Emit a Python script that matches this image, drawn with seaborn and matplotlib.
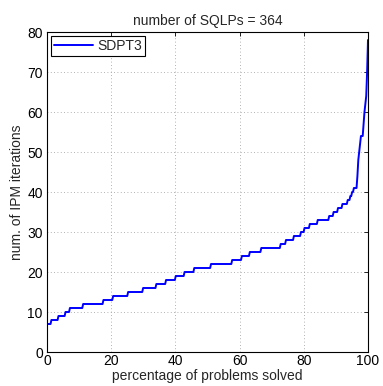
"""Iteration-count profile for SDPT3 on the SQLP test set."""

import matplotlib
matplotlib.use("Agg")
import matplotlib.pyplot as plt
import numpy as np
import pandas as pd
import seaborn as sns

# sorted IPM iteration counts, run-length encoded: value -> number of problems
ITER_VALUES = [7, 8, 9, 10, 11, 12, 13, 14, 15, 16, 17, 18, 19, 20, 21, 22, 23, 24,
               25, 26, 27, 28, 29, 30, 31, 32, 33, 34, 35, 36, 37, 38, 39, 40, 41,
               44, 48, 50, 52, 54, 57, 60, 62, 64, 70, 78]
ITER_COUNTS = [4, 8, 8, 5, 15, 23, 11, 17, 17, 15, 11, 11, 10, 11, 19, 24, 11, 9,
               13, 22, 6, 9, 8, 4, 6, 9, 13, 5, 5, 5, 6, 3, 2, 2, 4,
               1, 1, 1, 1, 3, 1, 1, 1, 1, 1, 1]
SOLVER = "SDPT3"
X_TICKS = [0, 20, 40, 60, 80, 100]
Y_TICKS = [0, 10, 20, 30, 40, 50, 60, 70, 80]

sns.set_theme(style="white")
plt.rcParams["font.family"] = ["Liberation Sans", "DejaVu Sans"]
plt.rcParams.update({
    "xtick.direction": "in", "ytick.direction": "in",
    "xtick.top": True, "ytick.right": True,
    "xtick.major.size": 3, "ytick.major.size": 3,
    "xtick.major.width": 0.6, "ytick.major.width": 0.6,
    "xtick.color": "black", "ytick.color": "black",
})

iters = np.repeat(ITER_VALUES, ITER_COUNTS)
n = len(iters)
df = pd.DataFrame({"pct": np.arange(1, n + 1) / n * 100, "iters": iters})

fig = plt.figure(figsize=(3.83, 3.86), dpi=100)
ax = fig.add_axes([47 / 383, 1 - 352 / 386, 321 / 383, 320 / 386])

sns.lineplot(data=df, x="pct", y="iters", ax=ax, color="#0000ff", lw=1.4,
             label=SOLVER, estimator=None)

ax.set_xlim(0, 100)
ax.set_ylim(0, 80)
ax.set_xticks(X_TICKS)
ax.set_yticks(Y_TICKS)
ax.tick_params(labelsize=10)
ax.tick_params(axis="x", pad=1.5)
ax.tick_params(axis="y", pad=3)
ax.grid(True, ls=(0, (1, 3)), color="#999999", lw=0.6)
for s in ax.spines.values():
    s.set_color("black")
    s.set_linewidth(0.8)

ax.set_title(f"number of SQLPs = {n}", fontsize=10, pad=5)
ax.set_xlabel("percentage of problems solved", fontsize=10, labelpad=0.5)
ax.set_ylabel("num. of IPM iterations", fontsize=10, labelpad=2)

leg = ax.legend(loc="upper left", fontsize=10, frameon=True, fancybox=False,
                edgecolor="black", framealpha=1, handlelength=2.8,
                borderaxespad=0.3, borderpad=0.2, handletextpad=0.3)
leg.get_frame().set_linewidth(0.8)

fig.savefig("out.png", dpi=100)
